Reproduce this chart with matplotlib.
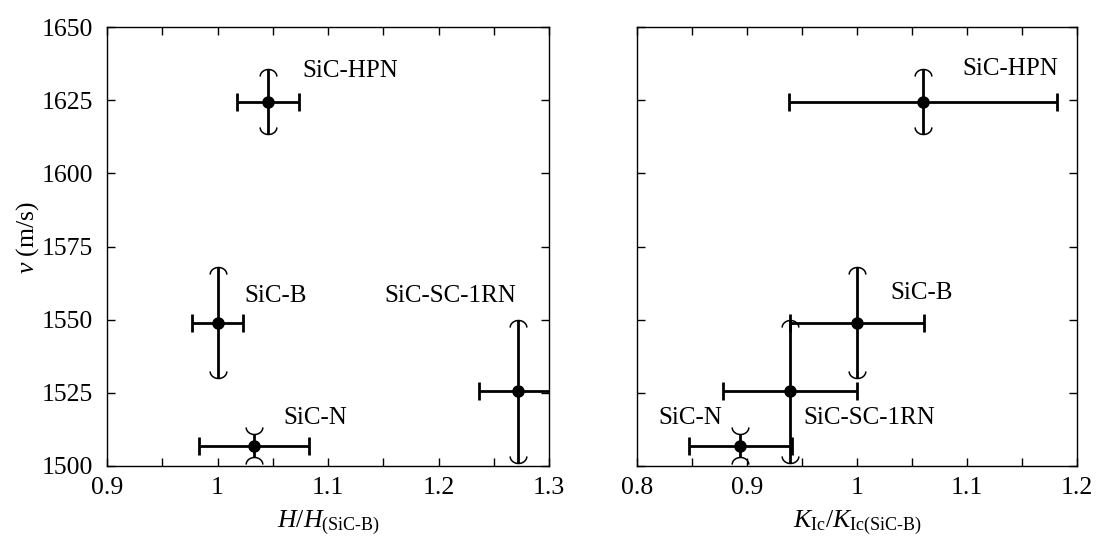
import numpy as np
import matplotlib
matplotlib.use('Agg')
import matplotlib.pyplot as plt
from matplotlib.path import Path
from matplotlib.ticker import MultipleLocator

plt.rcParams['font.family'] = ['Liberation Serif', 'DejaVu Serif']
plt.rcParams['mathtext.fontset'] = 'custom'
plt.rcParams['mathtext.rm'] = 'Liberation Serif'
plt.rcParams['mathtext.it'] = 'Liberation Serif:italic'

# data
names = ['SiC-HPN', 'SiC-B', 'SiC-N', 'SiC-SC-1RN']
v = [1624.5, 1549, 1507, 1525.5]
v_err = [11, 19, 4, 24.5]
hard = [1.046, 1.0, 1.033, 1.272]
hard_err = [0.028, 0.023, 0.05, 0.035]
kic = [1.06, 1.0, 0.894, 0.939]
kic_err = [0.122, 0.061, 0.047, 0.061]

# where the sample names sit (x, y) in each panel
lab_left = [(1.077, 1635), (1.024, 1558), (1.06, 1516.5), (1.151, 1558)]
lab_right = [(1.096, 1635.5), (1.03, 1559), (0.819, 1516.5), (0.951, 1516.5)]

# arc shaped caps for the vertical bars (apex sits on the bar end)
t = np.linspace(0, np.pi, 30)
arc_down = Path(np.column_stack([np.cos(t), 0.85 * (np.sin(t) - 1)]))
arc_up = Path(np.column_stack([np.cos(t), -0.85 * (np.sin(t) - 1)]))


def panel(ax, x, xerr, labels, xlim, xlabel):
    x = np.array(x)
    y = np.array(v)
    ye = np.array(v_err)
    ax.errorbar(x, y, xerr=xerr, fmt='none', ecolor='k', elinewidth=2,
                capsize=6.5, capthick=2, zorder=2)
    ax.errorbar(x, y, yerr=ye, fmt='none', ecolor='k', elinewidth=2,
                capsize=0, zorder=2)
    # short bars get their arcs turned outwards, as in the original
    short = ye < 6
    for sel, top_m, bot_m in [(~short, arc_down, arc_up), (short, arc_up, arc_down)]:
        ax.plot(x[sel], (y + ye)[sel], ls='none', marker=top_m,
                ms=12, mfc='none', mec='k', mew=1.1, zorder=2)
        ax.plot(x[sel], (y - ye)[sel], ls='none', marker=bot_m,
                ms=12, mfc='none', mec='k', mew=1.1, zorder=2)
    ax.plot(x, y, 'o', color='k', ms=8, zorder=3)
    for n, (lx, ly) in zip(names, labels):
        ax.text(lx, ly, n, fontsize=18, va='center', ha='left')
    ax.set_xlim(xlim)
    ax.set_ylim(1500, 1650)
    ax.xaxis.set_major_locator(MultipleLocator(0.1))
    ax.xaxis.set_minor_locator(MultipleLocator(0.05))
    ax.yaxis.set_major_locator(MultipleLocator(25))
    ax.xaxis.set_major_formatter(plt.FuncFormatter(lambda val, p: '%g' % round(val, 2)))
    ax.tick_params(which='both', direction='in', top=True, right=True,
                   length=5.5, width=1, labelsize=18.5)
    ax.tick_params(axis='x', pad=8)
    ax.tick_params(axis='y', pad=10)
    ax.set_xlabel(xlabel, fontsize=18.5, labelpad=7)
    for s in ax.spines.values():
        s.set_linewidth(1)


fig = plt.figure(figsize=(10.97, 5.38), dpi=100)
ax1 = fig.add_axes([107 / 1097, 72 / 538, 442 / 1097, 439 / 538])
ax2 = fig.add_axes([637 / 1097, 72 / 538, 440 / 1097, 439 / 538])

panel(ax1, hard, hard_err, lab_left, (0.9, 1.3),
      r'$H/H_{\text{(SiC-B)}}$')
panel(ax2, kic, kic_err, lab_right, (0.8, 1.2),
      r'$K_{\mathrm{Ic}}/K_{\text{Ic(SiC-B)}}$')
ax2.tick_params(labelleft=False)

ax1.set_ylabel(r'$v$ (m/s)', fontsize=18.5)
ax1.yaxis.set_label_coords(-0.15, 0.52)

fig.savefig('out.png', dpi=100)
